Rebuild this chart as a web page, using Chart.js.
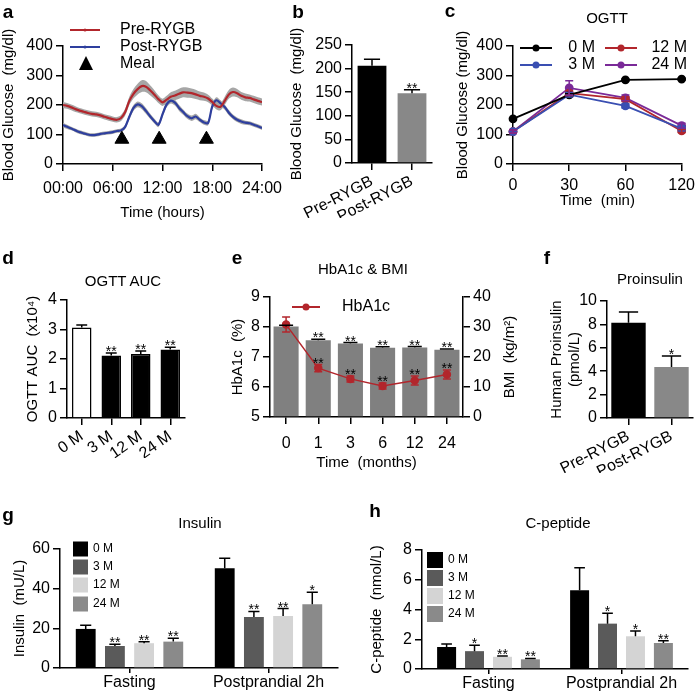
<!DOCTYPE html>
<html>
<head>
<meta charset="utf-8">
<script src="https://cdn.jsdelivr.net/npm/chart.js@4.4.1/dist/chart.umd.min.js"></script>
<style>
  body { margin: 0; background: #fff; }
  #fig { position: relative; width: 700px; height: 696px; font-family: "Liberation Sans", Arial, sans-serif; color: #000; }
  #fig canvas { position: absolute; left: 0; top: 0; }
  .letter { position: absolute; font-weight: bold; font-size: 19px; transform: translate(-50%, -50%); }
  .ttl { position: absolute; font-size: 15px; transform: translate(-50%, -50%); white-space: nowrap; }
</style>
</head>
<body>
<div id="fig">
  <canvas id="chA" width="700" height="696"></canvas>
  <canvas id="chB" width="700" height="696"></canvas>
  <canvas id="chC" width="700" height="696"></canvas>
  <canvas id="chD" width="700" height="696"></canvas>
  <canvas id="chE" width="700" height="696"></canvas>
  <canvas id="chF" width="700" height="696"></canvas>
  <canvas id="chG" width="700" height="696"></canvas>
  <canvas id="chH" width="700" height="696"></canvas>

  <div class="letter" style="left:8px;top:12px">a</div>
  <div class="letter" style="left:298px;top:12px">b</div>
  <div class="letter" style="left:450px;top:11px">c</div>
  <div class="letter" style="left:8px;top:258px">d</div>
  <div class="letter" style="left:237px;top:258px">e</div>
  <div class="letter" style="left:547px;top:258px">f</div>
  <div class="letter" style="left:8px;top:515px">g</div>
  <div class="letter" style="left:375px;top:511px">h</div>

  <div class="ttl" style="left:607px;top:17px">OGTT</div>
  <div class="ttl" style="left:123px;top:280px">OGTT AUC</div>
  <div class="ttl" style="left:363px;top:268px">HbA1c &amp; BMI</div>
  <div class="ttl" style="left:650px;top:278px">Proinsulin</div>
  <div class="ttl" style="left:200px;top:522px">Insulin</div>
  <div class="ttl" style="left:558px;top:522px">C-peptide</div>
</div>

<script>
// ---- a: 24h glucose profile ----
const hours = [0, 0.5, 1, 1.5, 2, 2.5, 3, 3.5, 4, 4.5, 5, 5.5, 6, 6.5, 7, 7.5, 8, 8.5, 9, 9.5,
  10, 10.5, 11, 11.5, 12, 12.5, 13, 13.5, 14, 14.5, 15, 15.5, 16, 16.5, 17, 17.5, 18, 18.5, 19, 19.5,
  20, 20.5, 21, 21.5, 22, 22.5, 23, 23.5, 24];
const preRygb = [200, 197, 192, 186, 181, 177, 173, 170, 168, 165,
  160, 156, 152, 150, 156, 176, 214, 238, 254, 264,
  262, 250, 236, 220, 209, 218, 228, 232, 238, 243,
  242, 240, 236, 231, 228, 222, 210, 197, 194, 214,
  236, 244, 240, 231, 226, 224, 219, 214, 210];
const preSem = [10, 10, 10, 10, 9, 9, 9, 9, 9, 9,
  9, 9, 9, 9, 10, 12, 14, 16, 18, 20,
  19, 17, 15, 13, 12, 13, 15, 16, 17, 17,
  17, 16, 16, 15, 14, 13, 12, 12, 12, 14,
  15, 15, 14, 13, 13, 12, 12, 12, 12];
const postRygb = [132, 126, 120, 114, 108, 104, 100, 98, 99, 102,
  104, 106, 108, 112, 114, 126, 160, 190, 202, 196,
  180, 162, 146, 133, 168, 202, 215, 208, 190, 176,
  162, 155, 161, 150, 141, 139, 195, 216, 206, 193,
  174, 160, 150, 144, 140, 138, 133, 128, 122];
const postSem = [7, 7, 6, 6, 6, 6, 6, 6, 6, 6,
  6, 6, 6, 6, 6, 7, 9, 10, 10, 10,
  10, 9, 8, 8, 9, 10, 10, 10, 10, 9,
  9, 9, 9, 8, 8, 8, 10, 10, 10, 9,
  9, 8, 8, 8, 7, 7, 7, 7, 7];
const mealHours = [7.1, 11.6, 17.3];
const mealMark = [84, 84, 84];
const hourTicks = ['00:00', '06:00', '12:00', '18:00', '24:00'];

// ---- b / f: pre vs post ----
const surgery = ['Pre-RYGB', 'Post-RYGB'];
const meanGlucose = [206, 148];
const meanGlucoseErr = [14, 7];
const meanGlucoseStars = ['', '**'];
const proinsulin = [8.15, 4.35];
const proinsulinErr = [0.9, 0.95];
const proinsulinStars = ['', '*'];

// ---- c: OGTT curves ----
const ogttMin = ['0', '30', '60', '120'];
const ogtt0M = [153, 234, 285, 288];
const ogtt0MErr = [4, 5, 3, 3];
const ogtt3M = [110, 235, 197, 120];
const ogtt3MErr = [5, 8, 7, 8];
const ogtt12M = [110, 240, 220, 112];
const ogtt12MErr = [5, 8, 8, 5];
const ogtt24M = [110, 258, 224, 130];
const ogtt24MErr = [5, 24, 10, 8];

// ---- d: OGTT AUC ----
const visits = ['0 M', '3 M', '12 M', '24 M'];
const aucMean = [3.07, 2.12, 2.17, 2.32];
const aucErr = [0.08, 0.08, 0.1, 0.08];
const aucStars = ['', '**', '**', '**'];

// ---- e: HbA1c & BMI ----
const months = ['0', '1', '3', '6', '12', '24'];
const bmi = [30.2, 25.6, 24.5, 23.1, 23.2, 22.4];
const bmiErr = [0.4, 0.3, 0.3, 0.3, 0.3, 0.3];
const bmiStars = ['', '**', '**', '**', '**', '**'];
const hba1c = [8.08, 6.63, 6.27, 6.03, 6.22, 6.42];
const hba1cErr = [0.25, 0.12, 0.1, 0.1, 0.15, 0.15];
const hba1cStars = ['', '**', '**', '**', '**', '**'];

// ---- g / h: insulin and C-peptide ----
const phases = ['Fasting', 'Postprandial 2h'];
const insulin0M = [19.7, 50.3], insulin0MErr = [1.8, 5];
const insulin3M = [11.1, 25.7], insulin3MErr = [0.9, 2.8];
const insulin12M = [12.5, 26.2], insulin12MErr = [0.7, 3.8];
const insulin24M = [13.3, 32.2], insulin24MErr = [1.7, 6];
const insulinStars = [['', ''], ['**', '**'], ['**', '**'], ['**', '*']];
const cpep0M = [1.48, 5.3], cpep0MErr = [0.2, 1.5];
const cpep3M = [1.2, 3.05], cpep3MErr = [0.4, 0.7];
const cpep12M = [0.82, 2.2], cpep12MErr = [0.06, 0.35];
const cpep24M = [0.65, 1.75], cpep24MErr = [0.06, 0.15];
const cpepStars = [['', ''], ['*', '*'], ['**', '*'], ['**', '**']];

const FONT = '"Liberation Sans", Arial, sans-serif';
const RED = '#b2262c', BLUE = '#2e3f9e', PURPLE = '#7a2a98', BAND = '#a6a6a6';
const visitColors = ['#000000', '#5a5a5a', '#d4d4d4', '#8a8a8a'];

Chart.defaults.font.family = FONT;
Chart.defaults.font.size = 16;
Chart.defaults.color = '#000';

// every canvas covers the whole figure, so the padding places the plot area
function opts(box, scales) {
  return {
    responsive: false, animation: false, devicePixelRatio: 1,
    layout: { padding: { left: box.l - box.yw, top: box.t, right: 700 - box.r - (box.rw || 0), bottom: 696 - box.b - box.xh } },
    plugins: { legend: { display: false }, tooltip: { enabled: false } },
    scales
  };
}

function axis(o) {
  const a = {
    position: o.pos || 'left',
    border: { color: '#000', width: 1.5 },
    grid: { drawOnChartArea: false, color: '#000', lineWidth: 1.5, tickLength: o.tl || 7, offset: false },
    ticks: { color: '#000', font: { size: 16 }, padding: o.pad == null ? 3 : o.pad, autoSkip: false,
      maxRotation: o.rot || 0, minRotation: o.rot || 0 },
    title: { display: !!o.title, text: o.title || '', color: '#000', font: { size: 15 }, padding: 0 },
    afterFit(s) { if (o.w) s.width = o.w; if (o.h) s.height = o.h; }
  };
  if (o.type) a.type = o.type;
  if (o.min != null) a.min = o.min;
  if (o.max != null) a.max = o.max;
  if (o.step) a.ticks.stepSize = o.step;
  if (o.cb) a.ticks.callback = o.cb;
  return a;
}

// error bars (+ significance stars) from dataset.errors / dataset.stars
const errorBars = {
  id: 'errorBars',
  afterDatasetsDraw(chart) {
    const ctx = chart.ctx;
    chart.data.datasets.forEach((ds, i) => {
      if (!ds.errors) return;
      const meta = chart.getDatasetMeta(i);
      const ys = chart.scales[meta.yAxisID];
      const isBar = meta.type === 'bar';
      meta.data.forEach((el, j) => {
        const v = ds.data[j], e = ds.errors[j];
        const top = ys.getPixelForValue(v + e);
        const base = isBar ? el.y : ys.getPixelForValue(v - e);
        const cap = isBar ? el.width * 0.28 : 4;
        ctx.save();
        ctx.strokeStyle = isBar ? '#000' : ds.borderColor;
        ctx.lineWidth = 1.5;
        ctx.beginPath();
        ctx.moveTo(el.x, base); ctx.lineTo(el.x, top);
        ctx.moveTo(el.x - cap, top); ctx.lineTo(el.x + cap, top);
        if (!isBar) { ctx.moveTo(el.x - cap, base); ctx.lineTo(el.x + cap, base); }
        ctx.stroke();
        if (ds.stars && ds.stars[j]) {
          ctx.fillStyle = '#000';
          ctx.font = '14px ' + FONT;
          ctx.textAlign = 'center';
          ctx.textBaseline = 'alphabetic';
          ctx.fillText(ds.stars[j], el.x, top + 3);
        }
        ctx.restore();
      });
    });
  }
};

function keyLine(ctx, x1, x2, y, color, dot) {
  ctx.save();
  ctx.strokeStyle = color; ctx.lineWidth = 2;
  ctx.beginPath(); ctx.moveTo(x1, y); ctx.lineTo(x2, y); ctx.stroke();
  if (dot) { ctx.fillStyle = color; ctx.beginPath(); ctx.arc((x1 + x2) / 2, y, dot, 0, Math.PI * 2); ctx.fill(); }
  ctx.restore();
}
function keyText(ctx, s, x, y, align, size) {
  ctx.save();
  ctx.fillStyle = '#000'; ctx.font = (size || 16) + 'px ' + FONT;
  ctx.textAlign = align || 'left'; ctx.textBaseline = 'middle';
  ctx.fillText(s, x, y);
  ctx.restore();
}
function keyBoxes(ctx, datasets, x, ys, w, h) {
  datasets.forEach((ds, i) => {
    ctx.fillStyle = ds.backgroundColor;
    ctx.fillRect(x, ys[i] - h / 2, w, h);
    keyText(ctx, ds.label, x + w + 5, ys[i], 'left', 12);
  });
}

// ---------- a ----------
const xy = ys => ys.map((y, i) => ({ x: hours[i], y }));
new Chart('chA', {
  type: 'line',
  data: { datasets: [
    { label: 'pre hi', data: xy(preRygb.map((v, i) => v + preSem[i])), fill: '+1', backgroundColor: BAND, borderWidth: 0, pointRadius: 0, tension: 0.3, order: 3 },
    { label: 'pre lo', data: xy(preRygb.map((v, i) => v - preSem[i])), fill: false, borderWidth: 0, pointRadius: 0, tension: 0.3, order: 3 },
    { label: 'post hi', data: xy(postRygb.map((v, i) => v + postSem[i])), fill: '+1', backgroundColor: BAND, borderWidth: 0, pointRadius: 0, tension: 0.3, order: 3 },
    { label: 'post lo', data: xy(postRygb.map((v, i) => v - postSem[i])), fill: false, borderWidth: 0, pointRadius: 0, tension: 0.3, order: 3 },
    { label: 'Pre-RYGB', data: xy(preRygb), borderColor: RED, borderWidth: 2.2, pointRadius: 0, tension: 0.3, order: 1 },
    { label: 'Post-RYGB', data: xy(postRygb), borderColor: BLUE, borderWidth: 2.2, pointRadius: 0, tension: 0.3, order: 1 },
    { label: 'Meal', type: 'scatter', data: mealHours.map((h, i) => ({ x: h, y: mealMark[i] })), pointStyle: 'triangle',
      pointRadius: 8, backgroundColor: '#000', borderColor: '#000', order: 0 }
  ] },
  options: opts({ l: 63, t: 46, r: 262, b: 164, yw: 63, xh: 58 }, {
    x: axis({ type: 'linear', pos: 'bottom', min: 0, max: 24, step: 6, cb: v => hourTicks[v / 6], pad: 8, h: 58, title: 'Time (hours)' }),
    y: axis({ min: 0, max: 400, step: 100, w: 63, title: 'Blood Glucose  (mg/dl)' })
  }),
  plugins: [{
    id: 'keyA',
    afterDraw(c) {
      const ctx = c.ctx, ds = c.data.datasets;
      keyLine(ctx, 70, 100, 30, RED, 1.5); keyText(ctx, ds[4].label, 120, 30);
      keyLine(ctx, 70, 100, 47, BLUE, 1.5); keyText(ctx, ds[5].label, 120, 47);
      ctx.fillStyle = '#000';
      ctx.beginPath(); ctx.moveTo(86, 56); ctx.lineTo(93, 70); ctx.lineTo(79, 70); ctx.closePath(); ctx.fill();
      keyText(ctx, ds[6].label, 120, 64);
    }
  }]
});

// ---------- b ----------
new Chart('chB', {
  type: 'bar',
  data: { labels: surgery, datasets: [{ data: meanGlucose, errors: meanGlucoseErr, stars: meanGlucoseStars,
    backgroundColor: ['#000', '#888'], barPercentage: 0.72, categoryPercentage: 1 }] },
  options: opts({ l: 352, t: 45, r: 432, b: 163, yw: 64, xh: 55 }, {
    x: axis({ pos: 'bottom', rot: 27, h: 55, pad: 2 }),
    y: axis({ min: 0, max: 250, step: 50, w: 64, title: 'Blood Glucose  (mg/dl)' })
  }),
  plugins: [errorBars]
});

// ---------- c ----------
const ogttSet = (label, data, errors, color, order) => ({ label, data, errors, borderColor: color, backgroundColor: color,
  pointBackgroundColor: color, pointBorderColor: color, pointRadius: 3.5, borderWidth: 1.8, order });
new Chart('chC', {
  type: 'line',
  data: { labels: ogttMin, datasets: [
    ogttSet('0 M', ogtt0M, ogtt0MErr, '#000', 0),
    ogttSet('3 M', ogtt3M, ogtt3MErr, '#3a4fb2', 1),
    ogttSet('12 M', ogtt12M, ogtt12MErr, RED, 1),
    ogttSet('24 M', ogtt24M, ogtt24MErr, PURPLE, 1)
  ] },
  options: opts({ l: 513, t: 46, r: 687, b: 164, yw: 59, xh: 46 }, {
    x: axis({ pos: 'bottom', h: 46, pad: 5, title: 'Time  (min)' }),
    y: axis({ min: 0, max: 400, step: 100, w: 59, title: 'Blood Glucose (mg/dl)' })
  }),
  plugins: [errorBars, {
    id: 'keyC',
    afterDraw(c) {
      const ctx = c.ctx, ds = c.data.datasets;
      keyLine(ctx, 520, 552, 48, ds[0].borderColor, 3.5); keyText(ctx, ds[0].label, 595, 48, 'right');
      keyLine(ctx, 605, 637, 48, ds[2].borderColor, 3.5); keyText(ctx, ds[2].label, 687, 48, 'right');
      keyLine(ctx, 520, 552, 65, ds[1].borderColor, 3.5); keyText(ctx, ds[1].label, 595, 65, 'right');
      keyLine(ctx, 605, 637, 65, ds[3].borderColor, 3.5); keyText(ctx, ds[3].label, 687, 65, 'right');
    }
  }]
});

// ---------- d ----------
new Chart('chD', {
  type: 'bar',
  data: { labels: visits, datasets: [{ data: aucMean, errors: aucErr, stars: aucStars,
    backgroundColor: ['#fff', '#000', '#000', '#000'], borderColor: '#000', borderWidth: 1.5,
    barPercentage: 0.66, categoryPercentage: 1 }] },
  options: opts({ l: 67, t: 300, r: 185, b: 418, yw: 43, xh: 40 }, {
    x: axis({ pos: 'bottom', rot: 35, h: 40, pad: 2 }),
    y: axis({ min: 0, max: 4, step: 1, w: 43, title: 'OGTT AUC  (x10⁴)' })
  }),
  plugins: [errorBars]
});

// ---------- e ----------
new Chart('chE', {
  type: 'bar',
  data: { labels: months, datasets: [
    { type: 'line', label: 'HbA1c', data: hba1c, errors: hba1cErr, stars: hba1cStars, yAxisID: 'y',
      borderColor: RED, backgroundColor: RED, pointRadius: 3.5, borderWidth: 1.5, order: 0 },
    { label: 'BMI', data: bmi, errors: bmiErr, stars: bmiStars, yAxisID: 'y1', backgroundColor: '#808080',
      barPercentage: 0.78, categoryPercentage: 1, order: 1 }
  ] },
  options: opts({ l: 270, t: 297, r: 463, b: 417, yw: 41, xh: 55, rw: 56 }, {
    x: axis({ pos: 'bottom', h: 55, pad: 10, title: 'Time  (months)' }),
    y: axis({ min: 5, max: 9, step: 1, w: 41, title: 'HbA1c  (%)' }),
    y1: axis({ pos: 'right', min: 0, max: 40, step: 10, w: 56 })
  }),
  plugins: [errorBars, {
    id: 'keyE',
    afterDraw(c) {
      const ctx = c.ctx;
      keyLine(ctx, 292, 320, 307, RED, 3.5);
      keyText(ctx, c.data.datasets[0].label, 342, 307);
      ctx.save();
      ctx.translate(510, 357); ctx.rotate(-Math.PI / 2);
      keyText(ctx, 'BMI  (kg/m²)', 0, 0, 'center', 15);
      ctx.restore();
    }
  }]
});

// ---------- f ----------
new Chart('chF', {
  type: 'bar',
  data: { labels: surgery, datasets: [{ data: proinsulin, errors: proinsulinErr, stars: proinsulinStars,
    backgroundColor: ['#000', '#888'], barPercentage: 0.8, categoryPercentage: 1 }] },
  options: opts({ l: 607, t: 301, r: 693, b: 418, yw: 59, xh: 55 }, {
    x: axis({ pos: 'bottom', rot: 27, h: 55, pad: 2 }),
    y: axis({ min: 0, max: 10, step: 2, w: 59, title: ['Human Proinsulin', '(pmol/L)'] })
  }),
  plugins: [errorBars]
});

// ---------- g / h ----------
function groupSets(series, errs, stars) {
  return series.map((d, i) => ({ label: visits[i], data: d, errors: errs[i], stars: stars[i],
    backgroundColor: visitColors[i], barPercentage: 0.68, categoryPercentage: 0.84 }));
}
new Chart('chG', {
  type: 'bar',
  data: { labels: phases, datasets: groupSets([insulin0M, insulin3M, insulin12M, insulin24M],
    [insulin0MErr, insulin3MErr, insulin12MErr, insulin24MErr], insulinStars) },
  options: opts({ l: 60, t: 549, r: 338, b: 668, yw: 49, xh: 25 }, {
    x: axis({ pos: 'bottom', h: 25, pad: 0, tl: 5 }),
    y: axis({ min: 0, max: 60, step: 20, w: 49, title: 'Insulin  (mU/L)' })
  }),
  plugins: [errorBars, { id: 'keyG', afterDraw(c) { keyBoxes(c.ctx, c.data.datasets, 73, [549, 567, 585, 604], 15, 15); } }]
});
new Chart('chH', {
  type: 'bar',
  data: { labels: phases, datasets: groupSets([cpep0M, cpep3M, cpep12M, cpep24M],
    [cpep0MErr, cpep3MErr, cpep12MErr, cpep24MErr], cpepStars) },
  options: opts({ l: 422, t: 550, r: 688, b: 669, yw: 54, xh: 25 }, {
    x: axis({ pos: 'bottom', h: 25, pad: 0, tl: 5 }),
    y: axis({ min: 0, max: 8, step: 2, w: 54, title: 'C-peptide  (nmol/L)' })
  }),
  plugins: [errorBars, { id: 'keyH', afterDraw(c) { keyBoxes(c.ctx, c.data.datasets, 427, [560, 578, 596, 614], 16, 16); } }]
});
</script>
</body>
</html>
